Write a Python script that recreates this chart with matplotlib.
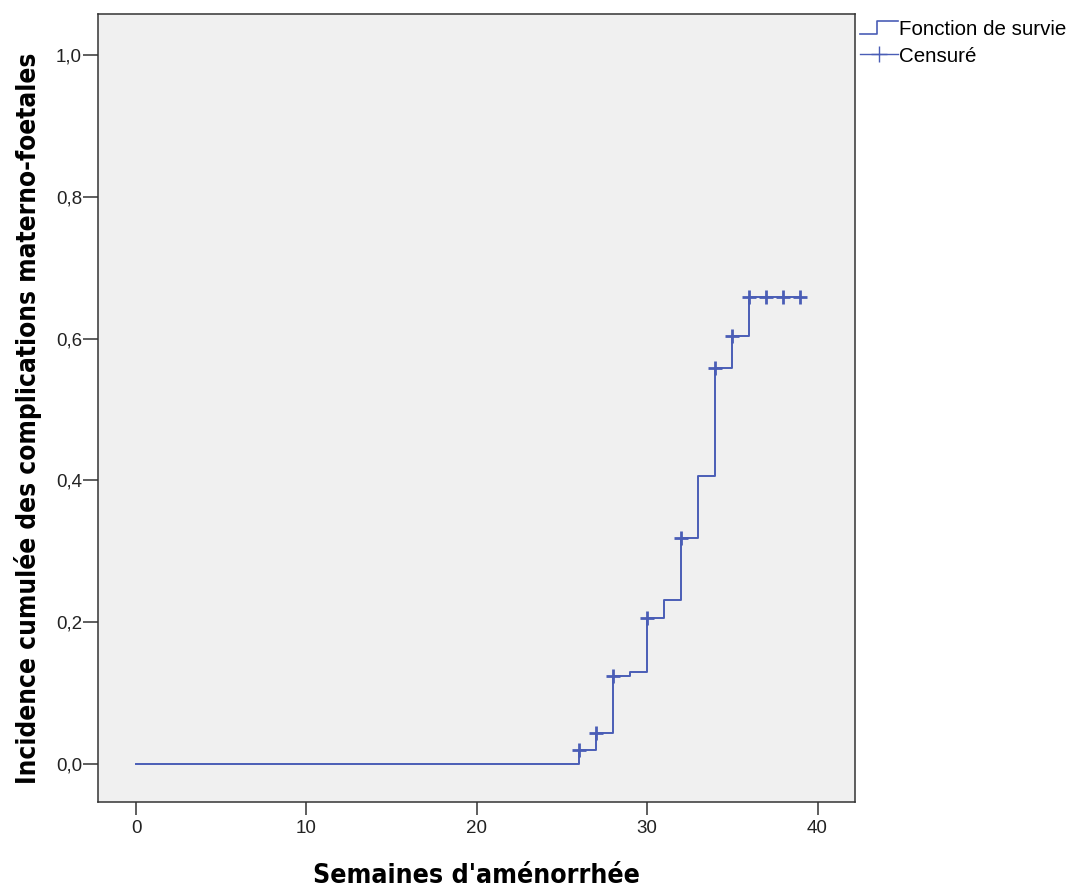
import matplotlib
matplotlib.use("Agg")
import matplotlib.pyplot as plt
from matplotlib.lines import Line2D
from matplotlib.legend_handler import HandlerBase

# Kaplan-Meier cumulative incidence (weeks of amenorrhea)
weeks = [0, 26, 27, 28, 29, 30, 31, 32, 33, 34, 35, 36, 39]
incidence = [0.0, 0.020, 0.043, 0.124, 0.130, 0.206, 0.231, 0.319, 0.406, 0.559, 0.604, 0.659, 0.659]

# Censored observations
censor_weeks = [26, 27, 28, 30, 32, 34, 35, 36, 37, 38, 39]
censor_values = [0.020, 0.043, 0.124, 0.206, 0.319, 0.559, 0.604, 0.659, 0.659, 0.659, 0.659]

x_ticks = [0, 10, 20, 30, 40]
y_ticks = [0.0, 0.2, 0.4, 0.6, 0.8, 1.0]
y_tick_labels = ["0,0", "0,2", "0,4", "0,6", "0,8", "1,0"]

LINE = "#4a5db6"
TICK_FONT = ["Liberation Sans", "DejaVu Sans"]
LABEL_FONT = ["DejaVu Sans"]


class StepHandler(HandlerBase):
    def create_artists(self, legend, orig_handle, xdescent, ydescent,
                       width, height, fontsize, trans):
        x0, x1 = -xdescent, -xdescent + width
        xm = x0 + width * 0.45
        yb = -ydescent + height * 0.05
        yt = -ydescent + height * 0.95
        ln = Line2D([x0, xm, xm, x1], [yb, yb, yt, yt], color=LINE, lw=1.2,
                    transform=trans)
        return [ln]


fig = plt.figure(figsize=(10.76, 8.89), dpi=100)
ax = fig.add_axes([0.0911, 0.0979, 0.7035, 0.8864])
ax.set_facecolor("#f0f0f0")

ax.step(weeks, incidence, where="post", color=LINE, lw=1.4, zorder=3)
ax.plot(censor_weeks, censor_values, linestyle="none", marker="+",
        markersize=10, markeredgewidth=2.0, color=LINE, zorder=4)

ax.set_xlim(-2.23, 42.2)
ax.set_ylim(-0.0536, 1.058)
ax.set_xticks(x_ticks)
ax.set_xticklabels([str(v) for v in x_ticks], family=TICK_FONT, fontsize=13.5, color="#222222")
ax.set_yticks(y_ticks)
ax.set_yticklabels(y_tick_labels, family=TICK_FONT, fontsize=13.5, color="#222222")
ax.tick_params(axis="y", direction="out", length=10.5, width=1.1, color="#333333", pad=1)
ax.tick_params(axis="x", direction="out", length=9, width=1.1, color="#333333", pad=4)

for sp in ax.spines.values():
    sp.set_color("#333333")
    sp.set_linewidth(1.1)

ax.set_xlabel("Semaines d'aménorrhée", family=LABEL_FONT, fontsize=19.2,
              fontweight="bold", stretch="condensed", labelpad=18.5)
ax.set_ylabel("Incidence cumulée des complications materno-foetales",
              family=LABEL_FONT, fontsize=18.8, fontweight="bold",
              stretch="condensed")
ax.yaxis.set_label_coords(-0.074, 0.487)

h_step = Line2D([], [], color=LINE)
h_cens = Line2D([], [], color=LINE, marker="+", markersize=11, lw=1.0)
fig.legend([h_step, h_cens], ["Fonction de survie", "Censuré"],
           handler_map={h_step: StepHandler()},
           loc="upper left", bbox_to_anchor=(0.7915, 0.987), frameon=False,
           prop={"family": TICK_FONT, "size": 14.8}, handlelength=1.86,
           handletextpad=0.05, labelspacing=0.38, borderaxespad=0)

fig.savefig("out.png", dpi=100, facecolor="white")
